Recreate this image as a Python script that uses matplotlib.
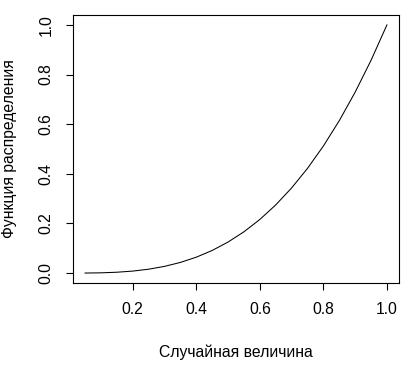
import matplotlib
matplotlib.use("Agg")
import matplotlib.pyplot as plt

x_values = [0.05, 0.10, 0.15, 0.20, 0.25, 0.30, 0.35, 0.40, 0.45, 0.50,
            0.55, 0.60, 0.65, 0.70, 0.75, 0.80, 0.85, 0.90, 0.95, 1.00]
y_values = [0.0001, 0.001, 0.0034, 0.008, 0.0156, 0.027, 0.0429, 0.064, 0.0911, 0.125,
            0.1664, 0.216, 0.2746, 0.343, 0.4219, 0.512, 0.6141, 0.729, 0.8574, 1.0]
x_ticks = [0.2, 0.4, 0.6, 0.8, 1.0]
y_ticks = [0.0, 0.2, 0.4, 0.6, 0.8, 1.0]
x_label = "Случайная величина"
y_label = "Функция распределения"

plt.rcParams['font.family'] = ['Liberation Sans', 'DejaVu Sans']
W, H = 417, 367
FS = 11.3
fig = plt.figure(figsize=(W / 100, H / 100), dpi=100)
ax = fig.add_axes([73 / W, (H - 283) / H, (399 - 73) / W, (283 - 15) / H])
ax.plot(x_values, y_values, color='black', lw=0.75)
ax.set_xlim(0.012, 1.038)
ax.set_ylim(-0.04, 1.04)
ax.set_xticks(x_ticks)
ax.set_yticks(y_ticks)
ax.set_xticklabels([f"{v:.1f}" for v in x_ticks])
ax.set_yticklabels([f"{v:.1f}" for v in y_ticks], rotation=90, va='center')
ax.tick_params(direction='out', length=5, width=0.8, labelsize=FS, colors='black')
ax.tick_params(axis='x', pad=9)
ax.tick_params(axis='y', pad=9)
for s in ax.spines.values():
    s.set_linewidth(0.8)
fig.text(236 / W, 1 - 352 / H, x_label, ha='center', va='center', fontsize=FS)
fig.text(10 / W, 1 - 149 / H, y_label, ha='center', va='center', rotation=90, fontsize=FS)
fig.savefig("out.png", dpi=100)
